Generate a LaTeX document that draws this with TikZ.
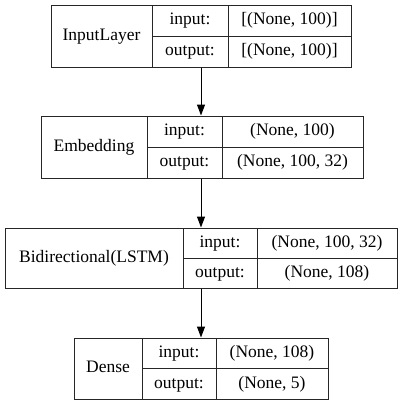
\documentclass[tikz,border=0pt]{standalone}
\usepackage{fontspec}
\setmainfont{Liberation Serif}
\usetikzlibrary{arrows.meta}
\begin{document}
\begin{tikzpicture}[x=1pt,y=-1pt,
  box/.style={draw=black!85, line width=1pt, rectangle, inner sep=0pt},
  sep/.style={draw=black!85, line width=1pt},
  txt/.style={inner sep=0pt, font=\fontsize{17.5}{17.5}\selectfont, text height=12pt, text depth=4pt, anchor=center},
  conn/.style={-{Triangle[length=11pt,width=8pt]}, line width=1pt}]
\useasboundingbox (0,0) rectangle (401,405);
% Layer 1
\node[box, minimum width=300pt, minimum height=62pt] (L1) at (201,36) {};
\draw[sep] (152,5) -- (152,67) (228,5) -- (228,67) (152,36) -- (351,36);
\node[txt] (L1n) at (101.5,36) {InputLayer};
\node[txt] (L1i) at (190,20.5) {input:};
\node[txt] (L1o) at (190,51.5) {output:};
\node[txt] (L1iv) at (289.5,20.5) {[(None, 100)]};
\node[txt] (L1ov) at (289.5,51.5) {[(None, 100)]};
% Layer 2
\node[box, minimum width=322pt, minimum height=62pt] (L2) at (202,147) {};
\draw[sep] (147,116) -- (147,178) (222,116) -- (222,178) (147,147) -- (363,147);
\node[txt] (L2n) at (94,147) {Embedding};
\node[txt] (L2i) at (184.5,131.5) {input:};
\node[txt] (L2o) at (184.5,162.5) {output:};
\node[txt] (L2iv) at (292.5,131.5) {(None, 100)};
\node[txt] (L2ov) at (292.5,162.5) {(None, 100, 32)};
% Layer 3
\node[box, minimum width=392pt, minimum height=60pt] (L3) at (201,258) {};
\draw[sep] (183,228) -- (183,288) (257,228) -- (257,288) (183,258) -- (397,258);
\node[txt] (L3n) at (94,258) {Bidirectional(LSTM)};
\node[txt] (L3i) at (220,243) {input:};
\node[txt] (L3o) at (220,273) {output:};
\node[txt] (L3iv) at (327,243) {(None, 100, 32)};
\node[txt] (L3ov) at (327,273) {(None, 108)};
% Layer 4
\node[box, minimum width=254pt, minimum height=61pt] (L4) at (201,368.5) {};
\draw[sep] (142,338) -- (142,399) (216,338) -- (216,399) (142,368.5) -- (328,368.5);
\node[txt] (L4n) at (108,368.5) {Dense};
\node[txt] (L4i) at (179,353) {input:};
\node[txt] (L4o) at (179,384) {output:};
\node[txt] (L4iv) at (272,353) {(None, 108)};
\node[txt] (L4ov) at (272,384) {(None, 5)};
% connectors
\draw[conn] (L1.south) -- (L1.south |- L2.north);
\draw[conn] (L2.south -| L1.south) -- (L3.north);
\draw[conn] (L3.south) -- (L4.north);
\end{tikzpicture}
\end{document}
